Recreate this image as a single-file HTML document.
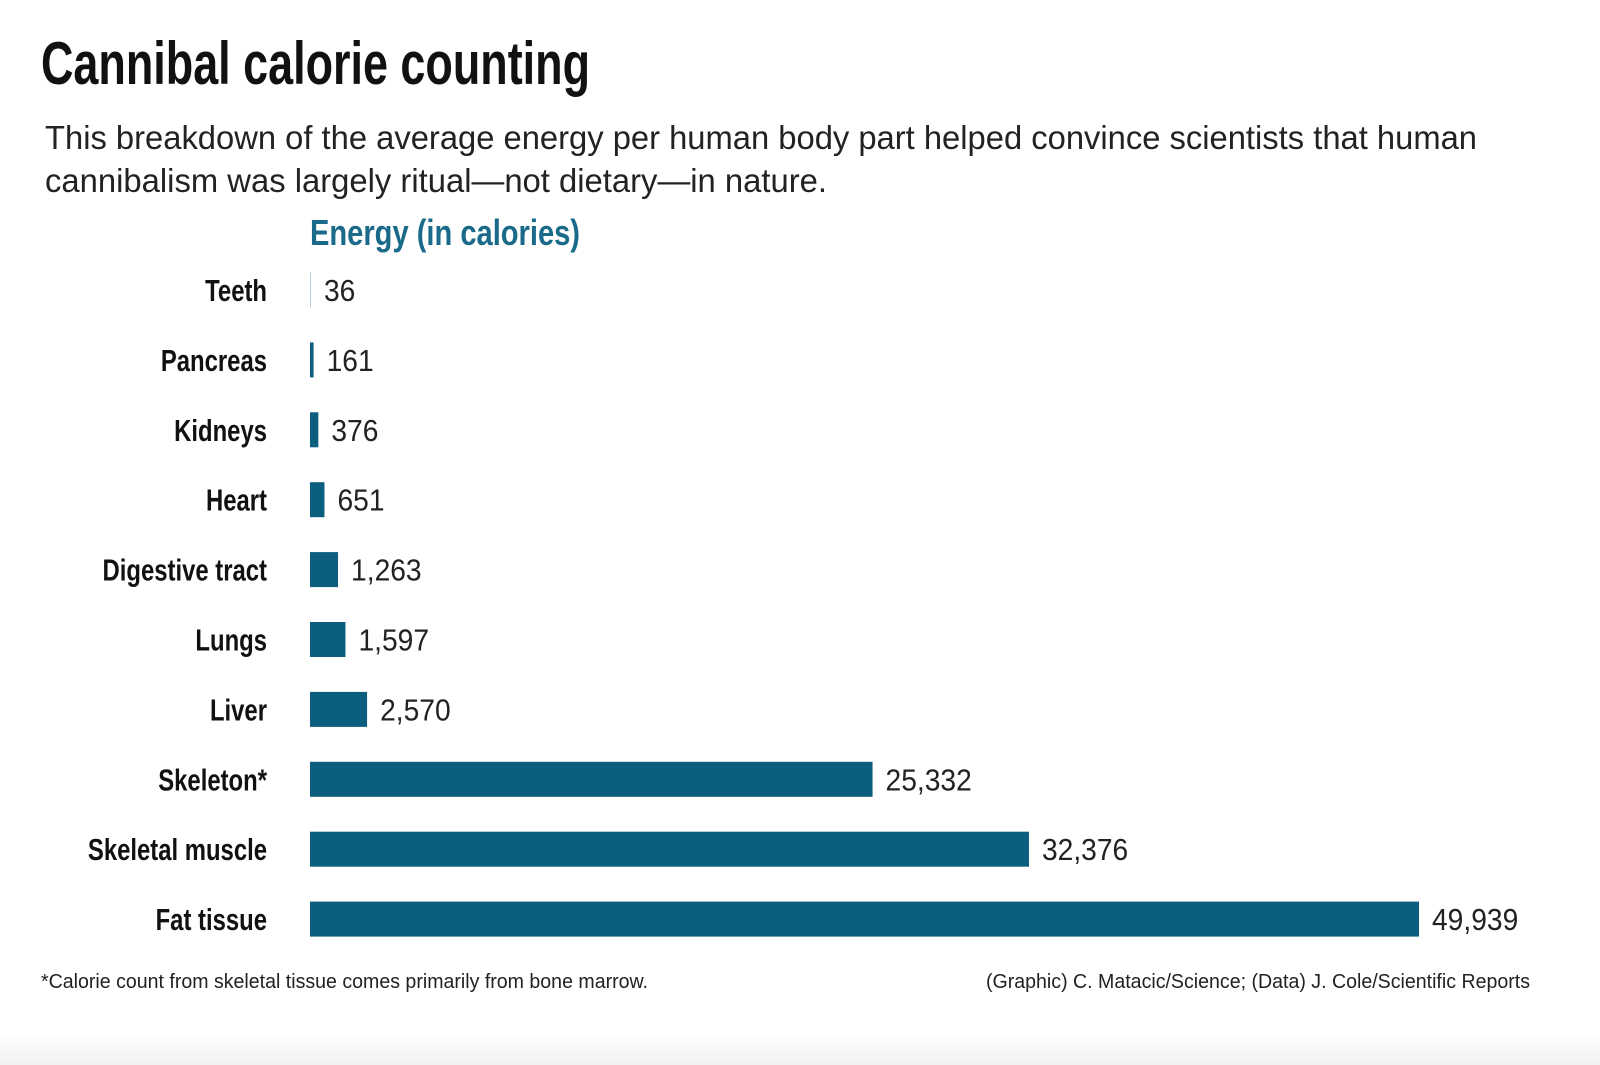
<!DOCTYPE html>
<html><head><meta charset="utf-8"><style>
html,body{margin:0;padding:0;background:#fff;}
svg{display:block;font-family:"Liberation Sans",sans-serif;}
</style></head><body>
<svg width="1600" height="1065" viewBox="0 0 1600 1065">
<defs><linearGradient id="bg" x1="0" y1="0" x2="0" y2="1"><stop offset="0" stop-color="#fff"/><stop offset="1" stop-color="#f1f1f1"/></linearGradient></defs>
<rect x="0" y="1035" width="1600" height="30" fill="url(#bg)"/>
<text x="41" y="84" font-size="60" font-weight="bold" fill="#111" textLength="549" lengthAdjust="spacingAndGlyphs">Cannibal calorie counting</text>
<text x="45" y="149" font-size="33" fill="#222" textLength="1432" lengthAdjust="spacingAndGlyphs">This breakdown of the average energy per human body part helped convince scientists that human</text>
<text x="45" y="192" font-size="33" fill="#222" textLength="782" lengthAdjust="spacingAndGlyphs">cannibalism was largely ritual—not dietary—in nature.</text>
<text x="310" y="245" font-size="36" font-weight="bold" fill="#1a6a8a" textLength="270" lengthAdjust="spacingAndGlyphs">Energy (in calories)</text>
<g id="bars"></g>
<text x="41" y="988" font-size="20" fill="#222" textLength="607" lengthAdjust="spacingAndGlyphs">*Calorie count from skeletal tissue comes primarily from bone marrow.</text>
<text x="1530" y="988" font-size="20" fill="#222" text-anchor="end" textLength="544" lengthAdjust="spacingAndGlyphs">(Graphic) C. Matacic/Science; (Data) J. Cole/Scientific Reports</text>
</svg>
<script>
const categories = ["Teeth","Pancreas","Kidneys","Heart","Digestive tract","Lungs","Liver","Skeleton*","Skeletal muscle","Fat tissue"];
const values = [36,161,376,651,1263,1597,2570,25332,32376,49939];
const valueLabels = ["36","161","376","651","1,263","1,597","2,570","25,332","32,376","49,939"];
const NS="http://www.w3.org/2000/svg";
const g=document.getElementById('bars');
const x0=310, maxW=1109, maxV=49939;
const xScale=v=>v/maxV*maxW;
const y0=290, step=69.9, bh=35;
const yScale=i=>y0+i*step;
categories.forEach((c,i)=>{
  const cy=yScale(i);
  const w=Math.max(xScale(values[i]),1);
  const r=document.createElementNS(NS,'rect');
  r.setAttribute('x',x0);r.setAttribute('y',cy-bh/2);r.setAttribute('width',w);r.setAttribute('height',bh);
  r.setAttribute('fill',values[i]<100?'#b9cfd9':'#0b5e7e');
  
  
  g.appendChild(r);
  const l=document.createElementNS(NS,'text');
  l.setAttribute('transform','translate(267,'+(cy+11)+') scale(0.77,1)');
  l.setAttribute('text-anchor','end');l.setAttribute('font-size','31');l.setAttribute('font-weight','bold');l.setAttribute('fill','#111');
  l.textContent=c;
  
  
  g.appendChild(l);
  const v=document.createElementNS(NS,'text');
  v.setAttribute('transform','translate('+(x0+w+13)+','+(cy+11)+') scale(0.91,1)');
  v.setAttribute('font-size','31');v.setAttribute('fill','#222');
  v.textContent=valueLabels[i];
  
  
  g.appendChild(v);
});
</script>
</body></html>
